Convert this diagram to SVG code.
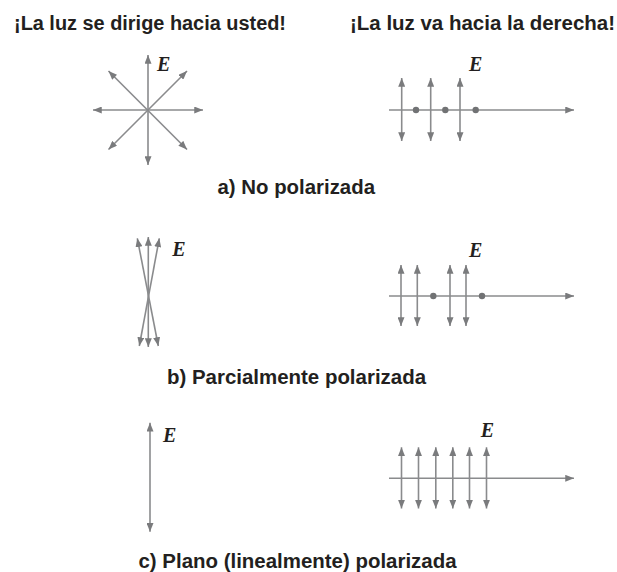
<svg xmlns="http://www.w3.org/2000/svg" width="617" height="572" viewBox="0 0 617 572">
<defs>
<marker id="ah" viewBox="0 0 10 8" refX="10" refY="4" markerWidth="9" markerHeight="7" markerUnits="userSpaceOnUse" orient="auto-start-reverse">
<path d="M0,0 L10,4 L0,8 Z" fill="#7a7b7d"/>
</marker>
</defs>
<style>
.ttl{font-family:"Liberation Sans",Arial,sans-serif;font-weight:bold;font-size:20px;fill:#231f20}
.e{font-family:"Liberation Serif","Times New Roman",serif;font-style:italic;font-weight:bold;font-size:20px;fill:#231f20}
.v{stroke:#8a8b8d;stroke-width:1.6;fill:none;marker-start:url(#ah);marker-end:url(#ah)}
.ax{stroke:#8a8b8d;stroke-width:1.6;fill:none;marker-end:url(#ah)}
.dot{fill:#717274}
</style>
<rect width="617" height="572" fill="#ffffff"/>
<g id="titles">
<text class="ttl" x="14" y="30" textLength="272" lengthAdjust="spacingAndGlyphs">¡La luz se dirige hacia usted!</text>
<text class="ttl" x="350" y="30" textLength="265" lengthAdjust="spacingAndGlyphs">¡La luz va hacia la derecha!</text>
<text class="ttl" x="217.5" y="194" textLength="157.5" lengthAdjust="spacingAndGlyphs">a) No polarizada</text>
<text class="ttl" x="167" y="384" textLength="259" lengthAdjust="spacingAndGlyphs">b) Parcialmente polarizada</text>
<text class="ttl" x="138.5" y="567.5" textLength="318" lengthAdjust="spacingAndGlyphs">c) Plano (linealmente) polarizada</text>
</g>
<g id="connectors">
<line class="v" x1="148" y1="55" x2="148" y2="165"/>
<line class="v" x1="93" y1="110" x2="203" y2="110"/>
<line class="v" x1="108.5" y1="71" x2="187" y2="149.5"/>
<line class="v" x1="187" y1="71" x2="108.5" y2="149.5"/>
<line class="ax" x1="389" y1="110" x2="574" y2="110"/>
<line class="v" x1="401.7" y1="78" x2="401.7" y2="141"/>
<line class="v" x1="430.7" y1="78" x2="430.7" y2="141"/>
<line class="v" x1="460" y1="78" x2="460" y2="141"/>
<line class="v" x1="148.3" y1="237" x2="148.3" y2="347"/>
<line class="v" x1="137.3" y1="238.3" x2="158.3" y2="346"/>
<line class="v" x1="159.3" y1="238.3" x2="139.3" y2="346"/>
<line class="ax" x1="389" y1="296" x2="574" y2="296"/>
<line class="v" x1="401" y1="265" x2="401" y2="326"/>
<line class="v" x1="417.3" y1="265" x2="417.3" y2="326"/>
<line class="v" x1="450" y1="265" x2="450" y2="326"/>
<line class="v" x1="466" y1="265" x2="466" y2="326"/>
<line class="v" x1="150" y1="422.7" x2="150" y2="531.7"/>
<line class="ax" x1="389" y1="478.3" x2="574" y2="478.3"/>
<line class="v" x1="401.5" y1="447.3" x2="401.5" y2="508.5"/>
<line class="v" x1="418.5" y1="447.3" x2="418.5" y2="508.5"/>
<line class="v" x1="435.8" y1="447.3" x2="435.8" y2="508.5"/>
<line class="v" x1="452.8" y1="447.3" x2="452.8" y2="508.5"/>
<line class="v" x1="469.5" y1="447.3" x2="469.5" y2="508.5"/>
<line class="v" x1="486.5" y1="447.3" x2="486.5" y2="508.5"/>
</g>
<g id="dots">
<circle class="dot" cx="416" cy="110" r="3.2"/>
<circle class="dot" cx="445.3" cy="110" r="3.2"/>
<circle class="dot" cx="475.7" cy="110" r="3.2"/>
<circle class="dot" cx="433.3" cy="296" r="3.2"/>
<circle class="dot" cx="482" cy="296" r="3.2"/>
</g>
<g id="labels">
<text class="e" x="157" y="70.7">E</text>
<text class="e" x="469" y="70.7">E</text>
<text class="e" x="172.3" y="256">E</text>
<text class="e" x="469" y="256.7">E</text>
<text class="e" x="163" y="441.7">E</text>
<text class="e" x="480.7" y="436.7">E</text>
</g>
</svg>
